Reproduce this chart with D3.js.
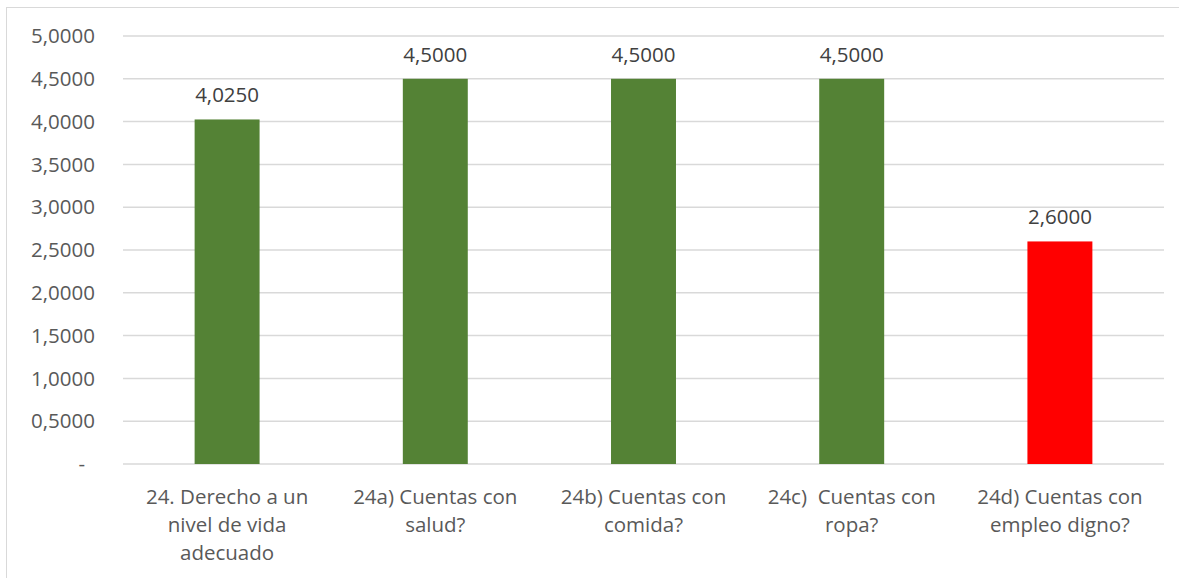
<!DOCTYPE html>
<html>
<head>
<meta charset="utf-8">
<script src="https://cdn.jsdelivr.net/npm/d3@7"></script>
<style>
  body { margin: 0; background: #fff; }
  svg text { font-family: "Open Sans", Lato, sans-serif; }
</style>
</head>
<body>
<div id="chart"></div>
<script>
// Category labels (already split into lines as in the picture)
const categories = [
    ["24. Derecho a un", "nivel de vida", "adecuado"],
    ["24a) Cuentas con", "salud?"],
    ["24b) Cuentas con", "comida?"],
    ["24c)  Cuentas con", "ropa?"],
    ["24d) Cuentas con", "empleo digno?"]
];
const values = [4.025, 4.5, 4.5, 4.5, 2.6];
const barColors = ["#548235", "#548235", "#548235", "#548235", "#ff0000"];
const yTicks = [0, 0.5, 1, 1.5, 2, 2.5, 3, 3.5, 4, 4.5, 5];

const width = 1179, height = 578;
const margin = { top: 36, right: 15, bottom: 114, left: 123 };

const svg = d3.select("#chart").append("svg")
    .attr("width", width)
    .attr("height", height);

// chart border
svg.append("rect")
    .attr("x", 6.5).attr("y", 7.5)
    .attr("width", width).attr("height", height)
    .attr("fill", "none")
    .attr("stroke", "#d9d9d9")
    .attr("stroke-width", 1);

const x = d3.scaleBand()
    .domain(d3.range(categories.length))
    .range([margin.left, width - margin.right])
    .paddingInner(0.688)
    .paddingOuter(0.344);

const y = d3.scaleLinear()
    .domain([0, 5])
    .range([height - margin.bottom, margin.top]);

const fmt = v => v === 0 ? "-" : d3.format(".4f")(v).replace(".", ",");

// gridlines
svg.append("g")
    .selectAll("line")
    .data(yTicks)
    .join("line")
    .attr("x1", margin.left)
    .attr("x2", width - margin.right)
    .attr("y1", d => y(d))
    .attr("y2", d => y(d))
    .attr("stroke", "#d9d9d9")
    .attr("stroke-width", 1.5);

// y tick labels
svg.append("g")
    .selectAll("text")
    .data(yTicks)
    .join("text")
    .attr("x", d => d === 0 ? 85 : 95)
    .attr("y", d => y(d))
    .attr("dy", "0.35em")
    .attr("text-anchor", "end")
    .attr("fill", "#595959")
    .style("font-size", "20.5px")
    .text(fmt);

// bars
svg.append("g")
    .selectAll("rect")
    .data(values)
    .join("rect")
    .attr("x", (d, i) => x(i))
    .attr("y", d => y(d))
    .attr("width", x.bandwidth())
    .attr("height", d => y(0) - y(d))
    .attr("fill", (d, i) => barColors[i]);

// data labels
svg.append("g")
    .selectAll("text")
    .data(values)
    .join("text")
    .attr("x", (d, i) => x(i) + x.bandwidth() / 2)
    .attr("y", d => y(d) - 17)
    .attr("text-anchor", "middle")
    .attr("fill", "#404040")
    .style("font-size", "20.5px")
    .text(fmt);

// category labels
const cat = svg.append("g")
    .selectAll("text")
    .data(categories)
    .join("text")
    .attr("x", (d, i) => x(i) + x.bandwidth() / 2)
    .attr("y", y(0) + 40)
    .attr("text-anchor", "middle")
    .attr("fill", "#595959")
    .style("font-size", "20.5px");

cat.selectAll("tspan")
    .data(d => d)
    .join("tspan")
    .attr("x", function () { return d3.select(this.parentNode).attr("x"); })
    .attr("dy", (d, i) => i === 0 ? 0 : 28)
    .style("white-space", "pre")
    .text(d => d);
</script>
</body>
</html>
